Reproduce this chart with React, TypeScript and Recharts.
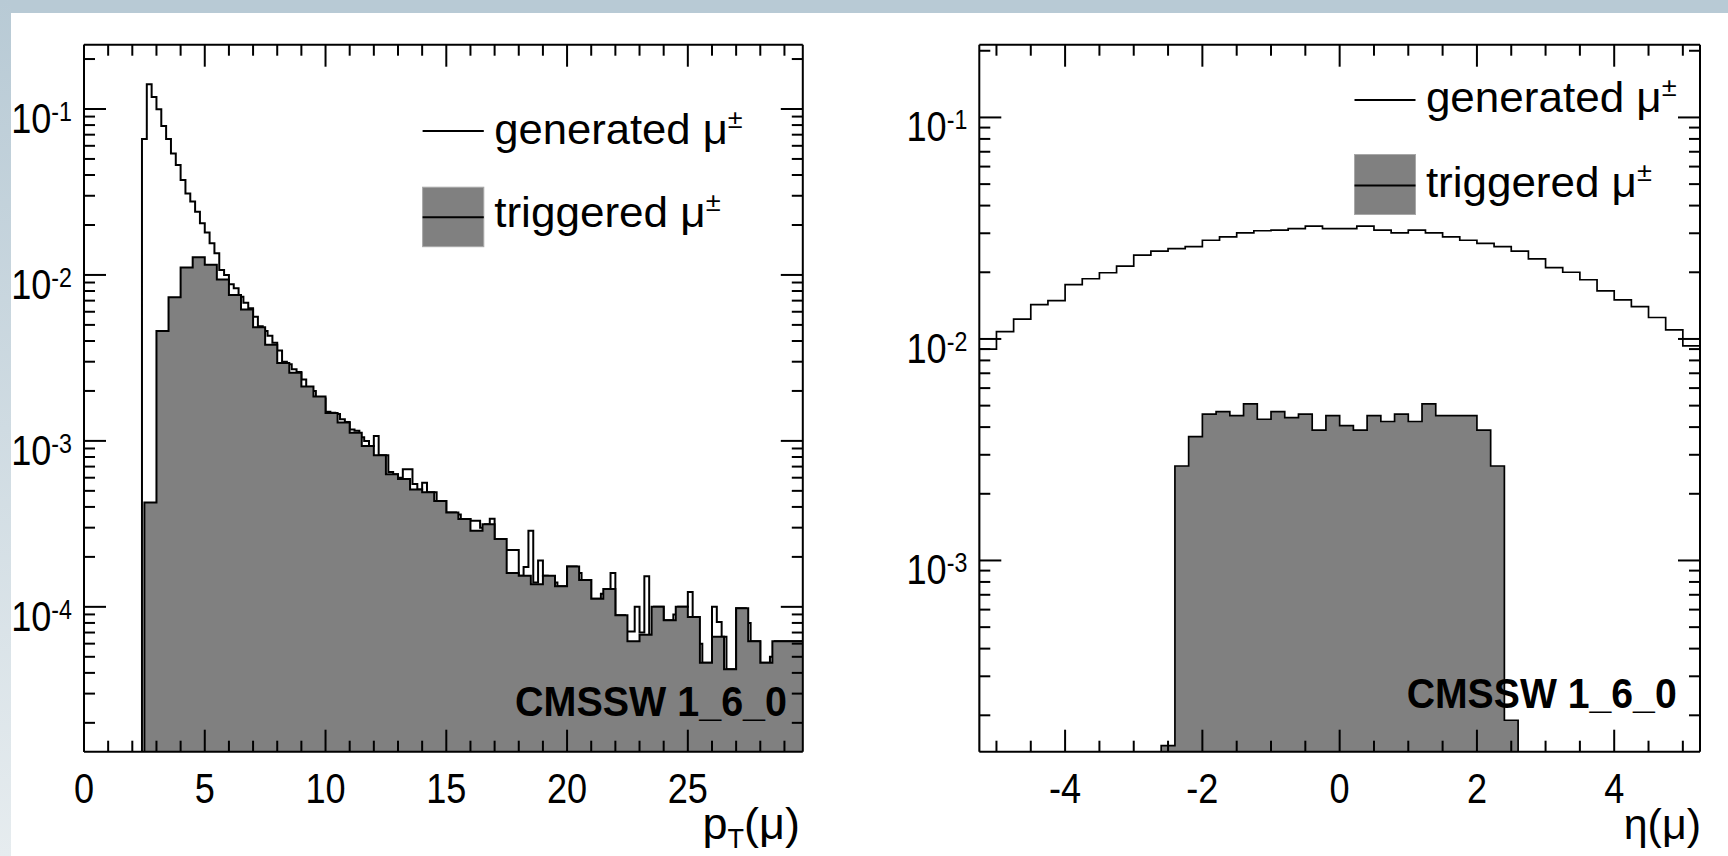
import React from 'react';
import { ComposedChart, Area, XAxis, YAxis } from 'recharts';

const FONT = '"Liberation Sans", Arial, Helvetica, sans-serif';

// ---------------- Left panel : pT(mu) ----------------
// generated mu (bins of 0.2 starting at 2.4)
const ptGenLow = 2.4;
const ptGenWidth = 0.2;
const ptGenerated = [
  0.066, 0.141, 0.118, 0.0995, 0.079,
  0.066, 0.054, 0.046, 0.0373, 0.031,
  0.0277, 0.024, 0.0205, 0.018, 0.0155,
  0.0135, 0.0107, 0.01, 0.0088, 0.0083,
  0.0074, 0.0068, 0.0063, 0.0056, 0.0049,
  0.0046, 0.0043, 0.0039, 0.0035, 0.003,
  0.0029, 0.0027, 0.0026, 0.00234, 0.0021,
  0.002, 0.0018, 0.0018, 0.0015, 0.00148,
  0.00145, 0.00135, 0.0013, 0.00117, 0.00115,
  0.00105, 0.001, 0.00093, 0.00107, 0.00082,
  0.00082, 0.00065, 0.00063, 0.0006, 0.000675,
  0.000675, 0.00055, 0.00051, 0.00056, 0.00049,
  0.00049, 0.000435, 0.000435, 0.00037, 0.00037,
  0.00036, 0.000338, 0.000338, 0.00033, 0.00033,
  0.0003, 0.000315, 0.00034, 0.000256, 0.000256,
  0.00022, 0.00022, 0.00022, 0.000154, 0.000174,
  0.000287, 0.00014, 0.00019, 0.000154, 0.00015,
  0.00014, 0.000133, 0.000133, 0.000175, 0.000175,
  0.00016, 0.000145, 0.000145, 0.000112, 0.000112,
  0.00012, 0.000128, 0.00016, 0.000089, 0.000089,
  0.000071, 0.000071, 0.0001, 0.00007, 0.000153,
  0.000068, 0.0001, 0.0001, 0.000083, 0.000083,
  0.00009, 0.0001, 0.0001, 0.000123, 0.000087,
  0.00006, 0.000046, 0.000046, 0.0001, 0.000081,
  0.000066, 0.000042, 0.000042, 0.000098, 0.000098,
  0.00008, 0.000062, 0.000062, 0.000046, 0.000046,
  0.00005, 0.000062, 0.000062, 0.000062, 0.000062,
  0.000062, 0.000062,
];
// triggered mu (bins of 0.5 starting at 2.5)
const ptTrigLow = 2.5;
const ptTrigWidth = 0.5;
const ptTriggered = [
  0.000425, 0.0046, 0.00734, 0.0111, 0.0128,
  0.0115, 0.0094, 0.00758, 0.0062, 0.00484,
  0.00379, 0.00295, 0.00257, 0.00213, 0.00185,
  0.00147, 0.00129, 0.00112, 0.00093, 0.00082,
  0.00063, 0.00059, 0.00051, 0.00049, 0.000435,
  0.00037, 0.000338, 0.000287, 0.000315, 0.000256,
  0.00016, 0.000154, 0.000137, 0.000154, 0.000133,
  0.000175, 0.000145, 0.000112, 0.000128, 0.000089,
  0.000062, 0.000068, 0.0001, 0.000083, 0.0001,
  0.000087, 0.000046, 0.000066, 0.000042, 0.000098,
  0.000062, 0.000046, 0.000062, 0.000062, 0.000062,
];
const ptXDomain = [0, 29.76];
const ptXTicks = [0, 1, 2, 3, 4, 5, 6, 7, 8, 9, 10, 11, 12, 13, 14, 15, 16, 17, 18, 19, 20, 21, 22, 23, 24, 25, 26, 27, 28, 29];
const ptXLabels = [0, 5, 10, 15, 20, 25];
const ptYDomain = [1.34e-5, 0.244];
const ptYDecades = [1e-5, 1e-4, 1e-3, 1e-2, 1e-1];

// ---------------- Right panel : eta(mu) ----------------
const etaGenLow = -5.25;
const etaGenWidth = 0.25;
const etaGenerated = [
  0.009, 0.0108, 0.0123, 0.0143, 0.0149, 0.0176, 0.0187,
  0.0199, 0.0213, 0.0239, 0.0249, 0.0256, 0.0261, 0.0279,
  0.0289, 0.0301, 0.0308, 0.031, 0.0315, 0.0323, 0.0315,
  0.0315, 0.0323, 0.031, 0.0301, 0.031, 0.0301, 0.0289,
  0.0279, 0.027, 0.0261, 0.0249, 0.023, 0.021, 0.02,
  0.0185, 0.0165, 0.015, 0.014, 0.0125, 0.011, 0.0093,
];
const etaTrigLow = -2.6;
const etaTrigWidth = 0.2;
const etaTriggered = [
  0.000146, 0.00267, 0.00362, 0.00458, 0.0047, 0.00451, 0.00509,
  0.00434, 0.0047, 0.00441, 0.00458, 0.00388, 0.00451,
  0.00406, 0.00388, 0.00451, 0.00424, 0.00458, 0.00424, 0.00509,
  0.00451, 0.00451, 0.00451, 0.00388, 0.00267, 0.00019,
];
const etaXDomain = [-5.25, 5.25];
const etaXTicks = [-5, -4.5, -4, -3.5, -3, -2.5, -2, -1.5, -1, -0.5, 0, 0.5, 1, 1.5, 2, 2.5, 3, 3.5, 4, 4.5, 5];
const etaXLabels = [-4, -2, 0, 2, 4];
const etaYDomain = [1.37e-4, 0.213];
const etaYDecades = [1e-4, 1e-3, 1e-2, 1e-1];

const minorMultipliers = [1, 2, 3, 4, 5, 6, 7, 8, 9];

type Pt = { x: number; y: number };
function histSteps(low: number, width: number, values: number[], floor: number): Pt[] {
  const pts: Pt[] = [{ x: low, y: floor }];
  values.forEach((v, i) => pts.push({ x: low + i * width, y: v }));
  const end = low + values.length * width;
  pts.push({ x: end, y: values[values.length - 1] });
  pts.push({ x: end, y: floor });
  return pts;
}
function logTicks(decades: number[], domain: number[]): number[] {
  const out: number[] = [];
  decades.forEach((d) => minorMultipliers.forEach((m) => {
    const v = d * m;
    if (v >= domain[0] && v <= domain[1]) out.push(v);
  }));
  return out;
}

const near = (a: number, b: number) => Math.abs(a - b) < 1e-9;
const LABEL_SIZE = 42;
const LABEL_SX = 0.86;

function makeXTick(side: 'bottom' | 'top', labels: number[], showLabels: boolean) {
  return (props: any) => {
    const { x, y, payload } = props;
    const v = payload.value as number;
    const isMajor = labels.some((m) => near(m, v));
    const len = isMajor ? 22 : 11;
    const dir = side === 'bottom' ? -1 : 1;
    return (
      <g>
        <line x1={x} y1={y} x2={x} y2={y + dir * len} stroke="#000" strokeWidth={2} />
        {showLabels && isMajor ? (
          <text transform={`translate(${x},${y + 51}) scale(${LABEL_SX},1)`} x={0} y={0} textAnchor="middle"
            fontFamily={FONT} fontSize={LABEL_SIZE} fill="#000">
            {String(v)}
          </text>
        ) : null}
      </g>
    );
  };
}

function makeYTick(side: 'left' | 'right', showLabels: boolean) {
  return (props: any) => {
    const { x, y, payload } = props;
    const v = payload.value as number;
    const e = Math.log10(v);
    const isMajor = Math.abs(e - Math.round(e)) < 1e-6;
    const len = isMajor ? 22 : 11;
    const dir = side === 'left' ? 1 : -1;
    return (
      <g>
        <line x1={x} y1={y} x2={x + dir * len} y2={y} stroke="#000" strokeWidth={2} />
        {showLabels && isMajor ? (
          <text transform={`translate(${x - 12},${y + 24}) scale(${LABEL_SX},1)`} x={0} y={0} textAnchor="end"
            fontFamily={FONT} fontSize={LABEL_SIZE} fill="#000">
            10<tspan dy={-12} fontSize={27}>{String(Math.round(e))}</tspan>
          </text>
        ) : null}
      </g>
    );
  };
}

const axisLine = { stroke: '#000', strokeWidth: 2 };

function HistPanel(p: {
  width: number; height: number; leftW: number; rightW: number; topH: number; bottomH: number;
  xDomain: number[]; xTicks: number[]; xLabels: number[];
  yDomain: number[]; yTicks: number[];
  gen: Pt[]; trig: Pt[]; lineW: number;
}) {
  return (
    <ComposedChart width={p.width} height={p.height} margin={{ top: 0, right: 0, bottom: 0, left: 0 }}>
      <XAxis xAxisId="b" type="number" dataKey="x" orientation="bottom" domain={p.xDomain} allowDataOverflow
        ticks={p.xTicks} interval={0} tickLine={false} tickSize={0} tickMargin={0} axisLine={axisLine}
        height={p.bottomH} tick={makeXTick('bottom', p.xLabels, true)} />
      <XAxis xAxisId="t" type="number" dataKey="x" orientation="top" domain={p.xDomain} allowDataOverflow
        ticks={p.xTicks} interval={0} tickLine={false} tickSize={0} tickMargin={0} axisLine={axisLine}
        height={p.topH} tick={makeXTick('top', p.xLabels, false)} />
      <YAxis yAxisId="l" type="number" scale="log" orientation="left" domain={p.yDomain} allowDataOverflow
        ticks={p.yTicks} interval={0} tickLine={false} tickSize={0} tickMargin={0} axisLine={axisLine}
        width={p.leftW} tick={makeYTick('left', true)} />
      <YAxis yAxisId="r" type="number" scale="log" orientation="right" domain={p.yDomain} allowDataOverflow
        ticks={p.yTicks} interval={0} tickLine={false} tickSize={0} tickMargin={0} axisLine={axisLine}
        width={p.rightW} tick={makeYTick('right', false)} />
      <Area xAxisId="b" yAxisId="l" data={p.gen} dataKey="y" type="stepAfter" stroke="#000"
        strokeWidth={p.lineW} fill="none" baseValue={p.yDomain[0]} isAnimationActive={false} dot={false} activeDot={false} />
      <Area xAxisId="b" yAxisId="l" data={p.trig} dataKey="y" type="stepAfter" stroke="#000"
        strokeWidth={p.lineW} fill="#808080" fillOpacity={1} baseValue={p.yDomain[0]} isAnimationActive={false} dot={false} activeDot={false} />
    </ComposedChart>
  );
}

function LegendBlock(p: { lx: number; lw: number; y1: number; tx: number; gb: number; genLen: number;
  boxTop: number; boxH: number; boxLine: number; tb: number; trigLen: number; }) {
  return (
    <g>
      <line x1={p.lx} y1={p.y1} x2={p.lx + p.lw} y2={p.y1} stroke="#000" strokeWidth={2} />
      <text x={p.tx} y={p.gb} fontFamily={FONT} fontSize={42} fill="#000" textLength={p.genLen} lengthAdjust="spacingAndGlyphs">
        generated μ<tspan dy={-16} fontSize={26}>±</tspan>
      </text>
      <rect x={p.lx} y={p.boxTop} width={p.lw} height={p.boxH} fill="#808080" stroke="#a8a8a8" strokeWidth={1} />
      <line x1={p.lx} y1={p.boxLine} x2={p.lx + p.lw} y2={p.boxLine} stroke="#000" strokeWidth={2} />
      <text x={p.tx} y={p.tb} fontFamily={FONT} fontSize={42} fill="#000" textLength={p.trigLen} lengthAdjust="spacingAndGlyphs">
        triggered μ<tspan dy={-16} fontSize={26}>±</tspan>
      </text>
    </g>
  );
}

export default function App() {
  const ptGen = histSteps(ptGenLow, ptGenWidth, ptGenerated, ptYDomain[0]);
  const ptTrig = histSteps(ptTrigLow, ptTrigWidth, ptTriggered, ptYDomain[0]);
  const etaGen = histSteps(etaGenLow, etaGenWidth, etaGenerated, etaYDomain[0]);
  const etaTrig = histSteps(etaTrigLow, etaTrigWidth, etaTriggered, etaYDomain[0]);
  return (
    <div style={{ position: 'absolute', left: 0, top: 0, width: 1728, height: 856, background: '#ffffff', overflow: 'hidden' }}>
      <div style={{ position: 'absolute', left: 0, top: 0, width: 1728, height: 13, background: '#b8cad5' }} />
      <div style={{ position: 'absolute', left: 0, top: 0, width: 11, height: 856, background: 'linear-gradient(to bottom, #b8cad5, #e6ecef)' }} />
      <div style={{ position: 'absolute', left: 0, top: 0 }}>
        <HistPanel width={860} height={856} leftW={84} rightW={57.2} topH={44.7} bottomH={104.3}
          xDomain={ptXDomain} xTicks={ptXTicks} xLabels={ptXLabels}
          yDomain={ptYDomain} yTicks={logTicks(ptYDecades, ptYDomain)}
          gen={ptGen} trig={ptTrig} lineW={2} />
      </div>
      <div style={{ position: 'absolute', left: 860, top: 0 }}>
        <HistPanel width={868} height={856} leftW={119.3} rightW={28} topH={44.7} bottomH={104.3}
          xDomain={etaXDomain} xTicks={etaXTicks} xLabels={etaXLabels}
          yDomain={etaYDomain} yTicks={logTicks(etaYDecades, etaYDomain)}
          gen={etaGen} trig={etaTrig} lineW={1.7} />
      </div>
      <svg width={1728} height={856} style={{ position: 'absolute', left: 0, top: 0, pointerEvents: 'none' }}>
        <LegendBlock lx={422.6} lw={61.2} y1={131} tx={494.2} gb={143.6} genLen={248.5}
          boxTop={187.2} boxH={59.5} boxLine={217.2} tb={226.5} trigLen={226.5} />
        <LegendBlock lx={1354.5} lw={61} y1={99.9} tx={1425.9} gb={111.9} genLen={250.8}
          boxTop={154.5} boxH={60} boxLine={185.6} tb={196.5} trigLen={226} />
        <text x={787} y={716} textAnchor="end" fontFamily={FONT} fontWeight="bold" fontSize={42} fill="#000"
          textLength={272} lengthAdjust="spacingAndGlyphs">CMSSW 1_6_0</text>
        <text x={1676.7} y={708} textAnchor="end" fontFamily={FONT} fontWeight="bold" fontSize={42} fill="#000"
          textLength={270} lengthAdjust="spacingAndGlyphs">CMSSW 1_6_0</text>
        <text x={800} y={839} textAnchor="end" fontFamily={FONT} fontSize={45} fill="#000">
          p<tspan dy={9} fontSize={27}>T</tspan><tspan dy={-9}>(μ)</tspan>
        </text>
        <text x={1701} y={839} textAnchor="end" fontFamily={FONT} fontSize={43} fill="#000">η(μ)</text>
      </svg>
    </div>
  );
}
